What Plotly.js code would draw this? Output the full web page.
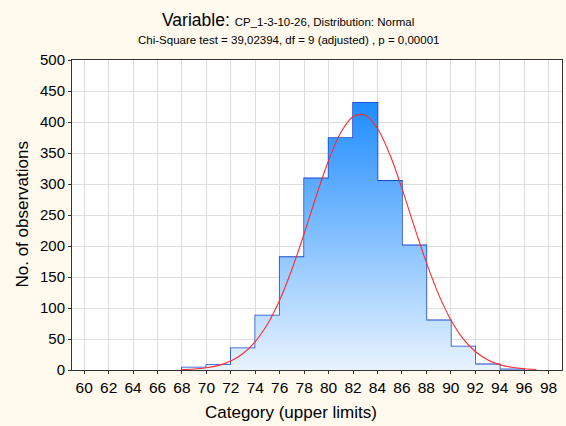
<!DOCTYPE html>
<html>
<head>
<meta charset="utf-8">
<script src="https://cdn.plot.ly/plotly-3.0.1.min.js"></script>
<style>html,body{margin:0;padding:0;background:#FFF9EE;}#chart{width:566px;height:426px;}</style>
</head>
<body>
<div id="chart"></div>
<script>
// Histogram: upper limits of categories (bin width 2) and counts
var upperLimits = [70, 72, 74, 76, 78, 80, 82, 84, 86, 88, 90, 92, 94, 96];
var counts      = [4, 8, 35, 88, 182, 309, 374, 431, 305, 201, 80, 38, 9, 1];
var binWidth = 2;

// Fitted normal curve (expected counts)
var curveX = [68, 69, 70, 71, 72, 73, 74, 75, 76, 77, 78, 79, 80, 81, 82, 83, 84, 85, 86, 87, 88, 89, 90, 91, 92, 93, 94, 95, 96, 97];
var curveY = [0.7, 1.7, 3.7, 7.5, 14.6, 26.6, 45.8, 74.1, 113, 162.5, 220, 281, 338, 383, 408.6, 411, 389.6, 348, 293, 232, 173.5, 122, 81, 50.6, 29.8, 16.6, 8.7, 4.3, 2.0, 0.9];

var xTicks = [];
for (var t = 60; t <= 98; t += 2) xTicks.push(t);

var titleLine1 = "<span style='font-size:17.5px'>Variable: </span>CP_1-3-10-26, Distribution: Normal";
var titleLine2 = "Chi-Square test = 39,02394, df = 9 (adjusted) , p = 0,00001";

// Build gradient-filled step polygon from histogram data
var px = [], py = [];
for (var i = 0; i < upperLimits.length; i++) {
  var lo = upperLimits[i] - binWidth, hi = upperLimits[i];
  px.push(lo, lo, hi, hi);
  py.push(0, counts[i], counts[i], 0);
}
var centers = upperLimits.map(function (u) { return u - binWidth / 2; });

var traces = [
  {
    type: 'scatter', x: px, y: py, mode: 'lines', fill: 'toself',
    line: {width: 0, color: 'rgba(0,0,0,0)'},
    fillgradient: {type: 'vertical', start: 0, stop: 432,
      colorscale: [[0, '#E8F3FF'], [1, '#1E8CFF']]},
    hoverinfo: 'skip', showlegend: false
  },
  {
    type: 'bar', x: centers, y: counts, width: binWidth,
    marker: {color: 'rgba(0,0,0,0)', line: {color: '#1646CC', width: 1.6}},
    showlegend: false
  },
  {
    type: 'scatter', x: curveX, y: curveY, mode: 'lines',
    line: {color: '#FF2A2A', width: 1.1, shape: 'spline', smoothing: 1},
    showlegend: false
  }
];

var layout = {
  width: 566, height: 426,
  paper_bgcolor: '#FFF9EE', plot_bgcolor: '#FFFFFF',
  margin: {l: 72, r: 4, t: 60, b: 56},
  font: {family: 'Liberation Sans, Arial, sans-serif', color: '#000'},
  xaxis: {
    range: [59, 99.1], tickvals: xTicks, ticktext: xTicks.map(String),
    showgrid: true, gridcolor: '#DEDEDE', gridwidth: 1,
    showline: true, linecolor: '#333', linewidth: 1, mirror: true,
    ticks: 'outside', ticklen: 3, tickcolor: '#333',
    tickfont: {size: 15.5, color: '#000'}, zeroline: false
  },
  yaxis: {
    range: [0, 500], tickvals: [0, 50, 100, 150, 200, 250, 300, 350, 400, 450, 500],
    showgrid: true, gridcolor: '#DEDEDE', gridwidth: 1,
    showline: true, linecolor: '#333', linewidth: 1, mirror: true,
    ticks: 'outside', ticklen: 3, tickcolor: '#333',
    tickfont: {size: 15, color: '#000'}, zeroline: false
  },
  bargap: 0,
  annotations: [
    {text: titleLine1, xref: 'paper', yref: 'paper', x: 0.441, y: 1.129,
     xanchor: 'center', yanchor: 'middle', showarrow: false,
     font: {size: 11.5, color: '#000'}},
    {text: titleLine2, xref: 'paper', yref: 'paper', x: 0.441, y: 1.066,
     xanchor: 'center', yanchor: 'middle', showarrow: false,
     font: {size: 11.5, color: '#000'}},
    {text: 'No. of observations', xref: 'paper', yref: 'paper', x: -0.103, y: 0.5,
     xanchor: 'center', yanchor: 'middle', textangle: -90, showarrow: false,
     font: {size: 17, color: '#000'}},
    {text: 'Category (upper limits)', xref: 'paper', yref: 'paper', x: 0.447, y: -0.136,
     xanchor: 'center', yanchor: 'middle', showarrow: false,
     font: {size: 17, color: '#000'}}
  ]
};

Plotly.newPlot('chart', traces, layout, {displayModeBar: false, staticPlot: true});
</script>
</body>
</html>
